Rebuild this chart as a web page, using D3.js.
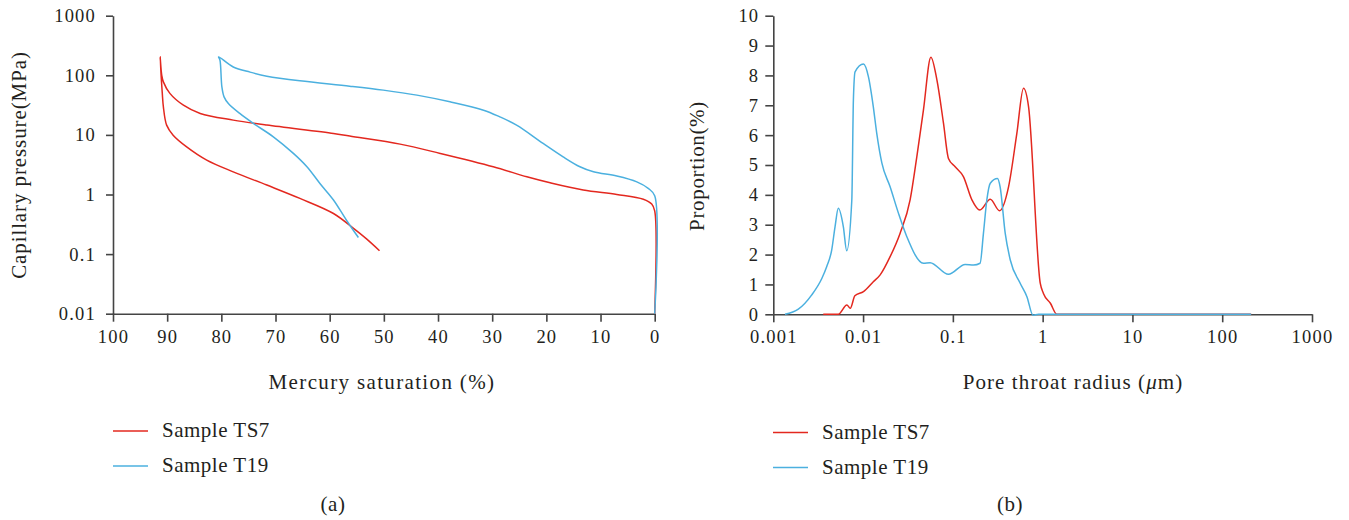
<!DOCTYPE html>
<html>
<head>
<meta charset="utf-8">
<script src="https://cdn.jsdelivr.net/npm/d3@7"></script>
<style>
	body { margin: 0; background: #fff; }
	svg text { font-family: "Liberation Serif", "DejaVu Serif", serif; fill: #231f20; }
	.axis path, .axis line { stroke: #444; stroke-width: 1.6; }
	.axis text { font-size: 18.5px; letter-spacing: 1.2px; }
</style>
</head>
<body>
<svg id="chart" width="1349" height="520"></svg>
<script>
//colours of the two samples
var colorTS7 = "#e3281f";
var colorT19 = "#4bb0df";
var seriesNames = ["Sample TS7", "Sample T19"];

//(a) mercury injection / withdrawal curves, points in drawing order
var ts7Saturation = [0, 0, 0.55, 2.1, 7.0, 13.2, 19.3, 23.6, 29.8, 39.6, 47, 56.3, 59.3, 71.6, 77.8, 83.9, 87.0, 89.5, 90.7, 91.0, 91.3, 90.9, 90.7, 90.1, 88.9, 86.4, 82.7, 77.8, 71.6, 65.5, 59.3, 55.6, 53.2, 50.8];
var ts7Pressure = [0.01, 0.53, 0.69, 0.83, 1.0, 1.19, 1.57, 1.98, 2.92, 4.89, 7.0, 9.55, 10.6, 14.6, 17.7, 22.9, 31.5, 49.7, 77.6, 100, 204, 49.7, 29.6, 14.6, 9.9, 6.3, 3.78, 2.4, 1.44, 0.86, 0.48, 0.27, 0.18, 0.114];
var t19Saturation = [0, 0, 1.2, 3.3, 7.0, 11.3, 13.8, 16.9, 20.6, 25.5, 28.6, 31.6, 37.8, 43.9, 50.1, 56.3, 65.5, 71.6, 74.7, 77.8, 80.5, 80.25, 79.9, 79.5, 78.7, 76.6, 74.1, 70.4, 66.7, 64.2, 61.8, 59.3, 56.9, 54.7];
var t19Pressure = [0.01, 0.95, 1.27, 1.63, 2.04, 2.4, 2.92, 4.28, 7.2, 14.6, 20.1, 26, 35.9, 46.5, 56.4, 65.8, 80.7, 96.8, 113, 138, 204, 179, 64, 43.5, 33.7, 22.9, 15.6, 9.3, 4.89, 2.92, 1.53, 0.81, 0.37, 0.19];
var saturationTicks = [100, 90, 80, 70, 60, 50, 40, 30, 20, 10, 0];
var pressureTicks = [0.01, 0.1, 1, 10, 100, 1000];

//(b) pore throat radius distribution
var ts7Radius = [0.0036, 0.0053, 0.0066, 0.0072, 0.0081, 0.0101, 0.013, 0.0155, 0.02, 0.0258, 0.0334, 0.0397, 0.047, 0.0569, 0.0664, 0.0786, 0.0893, 0.106, 0.131, 0.163, 0.2, 0.261, 0.331, 0.417, 0.516, 0.612, 0.697, 0.94, 1.02, 1.22, 1.44, 210];
var ts7Proportion = [0, 0, 0.31, 0.2, 0.62, 0.76, 1.09, 1.32, 1.93, 2.71, 3.83, 5.28, 6.84, 8.61, 7.85, 6.4, 5.22, 4.94, 4.61, 3.83, 3.49, 3.85, 3.47, 4.27, 6.06, 7.57, 6.95, 1.04, 0.70, 0.37, 0, 0];
var t19Radius = [0.00135, 0.0019, 0.00268, 0.00347, 0.00394, 0.00447, 0.00487, 0.0053, 0.00603, 0.00657, 0.00749, 0.0078, 0.00814, 0.0101, 0.01146, 0.013, 0.0142, 0.0162, 0.02, 0.0248, 0.0307, 0.047, 0.0558, 0.0893, 0.137, 0.170, 0.201, 0.219, 0.239, 0.261, 0.314, 0.336, 0.383, 0.436, 0.562, 0.668, 0.78, 0.9, 210];
var t19Proportion = [0, 0.17, 0.65, 1.2, 1.6, 2.15, 2.93, 3.55, 2.93, 2.13, 3.83, 7.18, 8.12, 8.38, 7.96, 6.95, 6.06, 5.06, 4.27, 3.38, 2.6, 1.71, 1.73, 1.34, 1.67, 1.65, 1.71, 2.71, 3.83, 4.39, 4.55, 4.27, 2.71, 1.82, 1.04, 0.59, -0.03, 0, 0];
var radiusTicks = [0.001, 0.01, 0.1, 1, 10, 100, 1000];
var proportionTicks = [0, 1, 2, 3, 4, 5, 6, 7, 8, 9, 10];

function zip(xs, ys)
{
	var out = [];
	for (var i = 0; i < xs.length; i++)
		out.push([xs[i], ys[i]]);
	return out;
}

//label helper, all titles share the same serif look
function label(svg, x, y, txt, spacing, rotate)
{
	var t = svg.append("text")
		.attr("text-anchor", "middle")
		.style("font-size", "21px").style("letter-spacing", spacing + "px");
	if (rotate)
		t.attr("transform", "translate(" + x + "," + y + ") rotate(-90)");
	else
		t.attr("x", x).attr("y", y);
	if (txt != null)
		t.text(txt);
	return t;
}

function drawLegend(svg, x, y)
{
	var colors = [colorTS7, colorT19];
	for (var i = 0; i < seriesNames.length; i++)
	{
		var yy = y + i * 35;
		svg.append("line")
			.attr("x1", x).attr("x2", x + 35)
			.attr("y1", yy).attr("y2", yy)
			.attr("stroke", colors[i]).attr("stroke-width", 1.6);
		svg.append("text")
			.attr("x", x + 49).attr("y", yy + 6)
			.style("font-size", "21px").style("letter-spacing", "0.5px")
			.text(seriesNames[i]);
	}
}

var svg = d3.select("#chart");

//---------- (a) capillary pressure ----------
var xSat = d3.scaleLinear().domain([100, 0]).range([113, 654.7]);
var yPres = d3.scaleLog().domain([0.01, 1000]).range([313.7, 15.7]);

svg.append("g").attr("class", "axis")
	.attr("transform", "translate(0," + yPres(0.01) + ")")
	.call(d3.axisBottom(xSat).tickValues(saturationTicks).tickFormat(d3.format("d")).tickSize(8).tickSizeOuter(0).tickPadding(8));
svg.append("g").attr("class", "axis")
	.attr("transform", "translate(" + xSat(100) + ",0)")
	.call(d3.axisLeft(yPres).tickValues(pressureTicks).tickFormat(function(d) { return String(d); }).tickSize(7).tickSizeOuter(0).tickPadding(10));

var lineA = d3.line()
	.x(function(d) { return xSat(d[0]); })
	.y(function(d) { return yPres(d[1]); })
	.curve(d3.curveCatmullRom.alpha(0.5));

svg.append("path").datum(zip(ts7Saturation, ts7Pressure))
	.attr("d", lineA).attr("fill", "none").attr("stroke", colorTS7).attr("stroke-width", 1.5);
svg.append("path").datum(zip(t19Saturation, t19Pressure))
	.attr("d", lineA).attr("fill", "none").attr("stroke", colorT19).attr("stroke-width", 1.5);

label(svg, 26, 165, "Capillary pressure(MPa)", 0.9, true);
label(svg, 382, 389, "Mercury saturation (%)", 1.35, false);
drawLegend(svg, 113, 431);
label(svg, 333, 511, "(a)", 0.5, false);

//---------- (b) pore throat radius ----------
var xRad = d3.scaleLog().domain([0.001, 1000]).range([773.3, 1312]);
var yProp = d3.scaleLinear().domain([0, 10]).range([314.3, 15.7]);

svg.append("g").attr("class", "axis")
	.attr("transform", "translate(0," + yProp(0) + ")")
	.call(d3.axisBottom(xRad).tickValues(radiusTicks).tickFormat(function(d) { return String(d); }).tickSize(8).tickSizeOuter(0).tickPadding(8));
svg.append("g").attr("class", "axis")
	.attr("transform", "translate(" + xRad(0.001) + ",0)")
	.call(d3.axisLeft(yProp).tickValues(proportionTicks).tickFormat(d3.format("d")).tickSize(8).tickSizeOuter(0).tickPadding(6));

var lineB = d3.line()
	.x(function(d) { return xRad(d[0]); })
	.y(function(d) { return yProp(d[1]); })
	.curve(d3.curveMonotoneX);

svg.append("path").datum(zip(ts7Radius, ts7Proportion))
	.attr("d", lineB).attr("fill", "none").attr("stroke", colorTS7).attr("stroke-width", 1.5);
svg.append("path").datum(zip(t19Radius, t19Proportion))
	.attr("d", lineB).attr("fill", "none").attr("stroke", colorT19).attr("stroke-width", 1.5);

label(svg, 704, 166, "Proportion(%)", 0.65, true);
var xt = label(svg, 1073, 389, null, 1.1, false);
xt.append("tspan").text("Pore throat radius (");
xt.append("tspan").style("font-style", "italic").text("\u03bc");
xt.append("tspan").text("m)");
drawLegend(svg, 773, 432.5);
label(svg, 1010, 511, "(b)", 0.5, false);
</script>
</body>
</html>
